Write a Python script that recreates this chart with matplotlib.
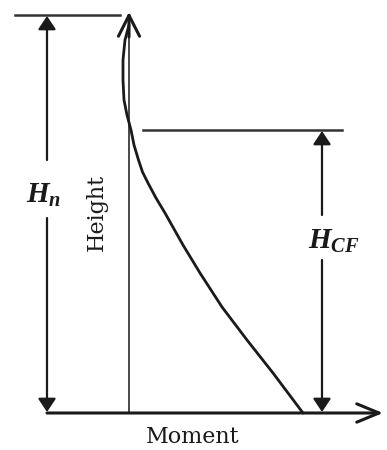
import matplotlib
matplotlib.use("Agg")
import matplotlib.pyplot as plt

plt.rcParams['mathtext.fontset'] = 'custom'
plt.rcParams['mathtext.it'] = 'Liberation Serif:italic:bold'
plt.rcParams['mathtext.rm'] = 'Liberation Serif:bold'

# Moment profile along the height (moment, height) in drawing units
moment = [0, -4, -6, -6, -5, -2, 2, 5, 9.5, 13.5, 19, 27, 36, 54, 71, 93, 118, 144, 174]
height = [388, 373, 353, 333, 313, 298, 283, 268, 253, 241, 230, 215, 200, 168, 140, 106, 73, 40, 0]

H_n = 398      # total height level (top line)
H_CF = 283     # level of contraflexure region top
x_dim_left = -82
x_dim_right = 193
axis_top = 401
axis_right = 254
axis_left = -82

ink = '#1a1a1a'

fig = plt.figure(figsize=(3.87, 4.5), dpi=100)
ax = fig.add_axes([0, 0, 1, 1])
ax.set_xlim(-129, 258)
ax.set_ylim(-37, 413)
ax.axis('off')

# axes with arrows
ax.plot([0, 0], [0, axis_top - 4], color='#3a3a3a', lw=1.3)
ax.annotate('', xy=(0, axis_top), xytext=(0, axis_top - 25),
            arrowprops=dict(arrowstyle='->,head_length=0.75,head_width=0.38', lw=2.2,
                            color=ink, shrinkA=0, shrinkB=0, mutation_scale=20))
ax.annotate('', xy=(axis_right, 0), xytext=(axis_left, 0),
            arrowprops=dict(arrowstyle='->,head_length=0.8,head_width=0.33', lw=2.2,
                            color=ink, shrinkA=0, shrinkB=0, mutation_scale=20))

# moment curve
ax.plot(moment, height, color=ink, lw=2.0, solid_capstyle='round', solid_joinstyle='round')

# reference lines
ax.plot([-114, -9], [H_n, H_n], color='#333333', lw=1.8)
ax.plot([14, 213], [H_CF, H_CF], color='#333333', lw=1.8)

# left dimension (H_n)
arr = dict(arrowstyle='-|>,head_length=0.45,head_width=0.3', lw=1.6, color=ink,
           shrinkA=0, shrinkB=0, mutation_scale=18)
ax.annotate('', xy=(x_dim_left, H_n - 1), xytext=(x_dim_left, 253), arrowprops=arr)
ax.annotate('', xy=(x_dim_left, 1), xytext=(x_dim_left, 195), arrowprops=arr)
ax.text(-85, 218, r'$H_n$', fontsize=21, ha='center', va='center', color=ink)

# right dimension (H_CF)
ax.annotate('', xy=(x_dim_right, H_CF - 1), xytext=(x_dim_right, 198), arrowprops=arr)
ax.annotate('', xy=(x_dim_right, 1), xytext=(x_dim_right, 153), arrowprops=arr)
ax.text(205, 172, r'$H_{CF}$', fontsize=21, ha='center', va='center', color=ink)

# axis labels
ax.text(-32, 201, 'Height', rotation=90, fontsize=16, family='DejaVu Serif',
        ha='center', va='center', color=ink)
ax.text(64, -24, 'Moment', fontsize=16, family='DejaVu Serif',
        ha='center', va='center', color=ink)

fig.savefig('out.png', dpi=100)
